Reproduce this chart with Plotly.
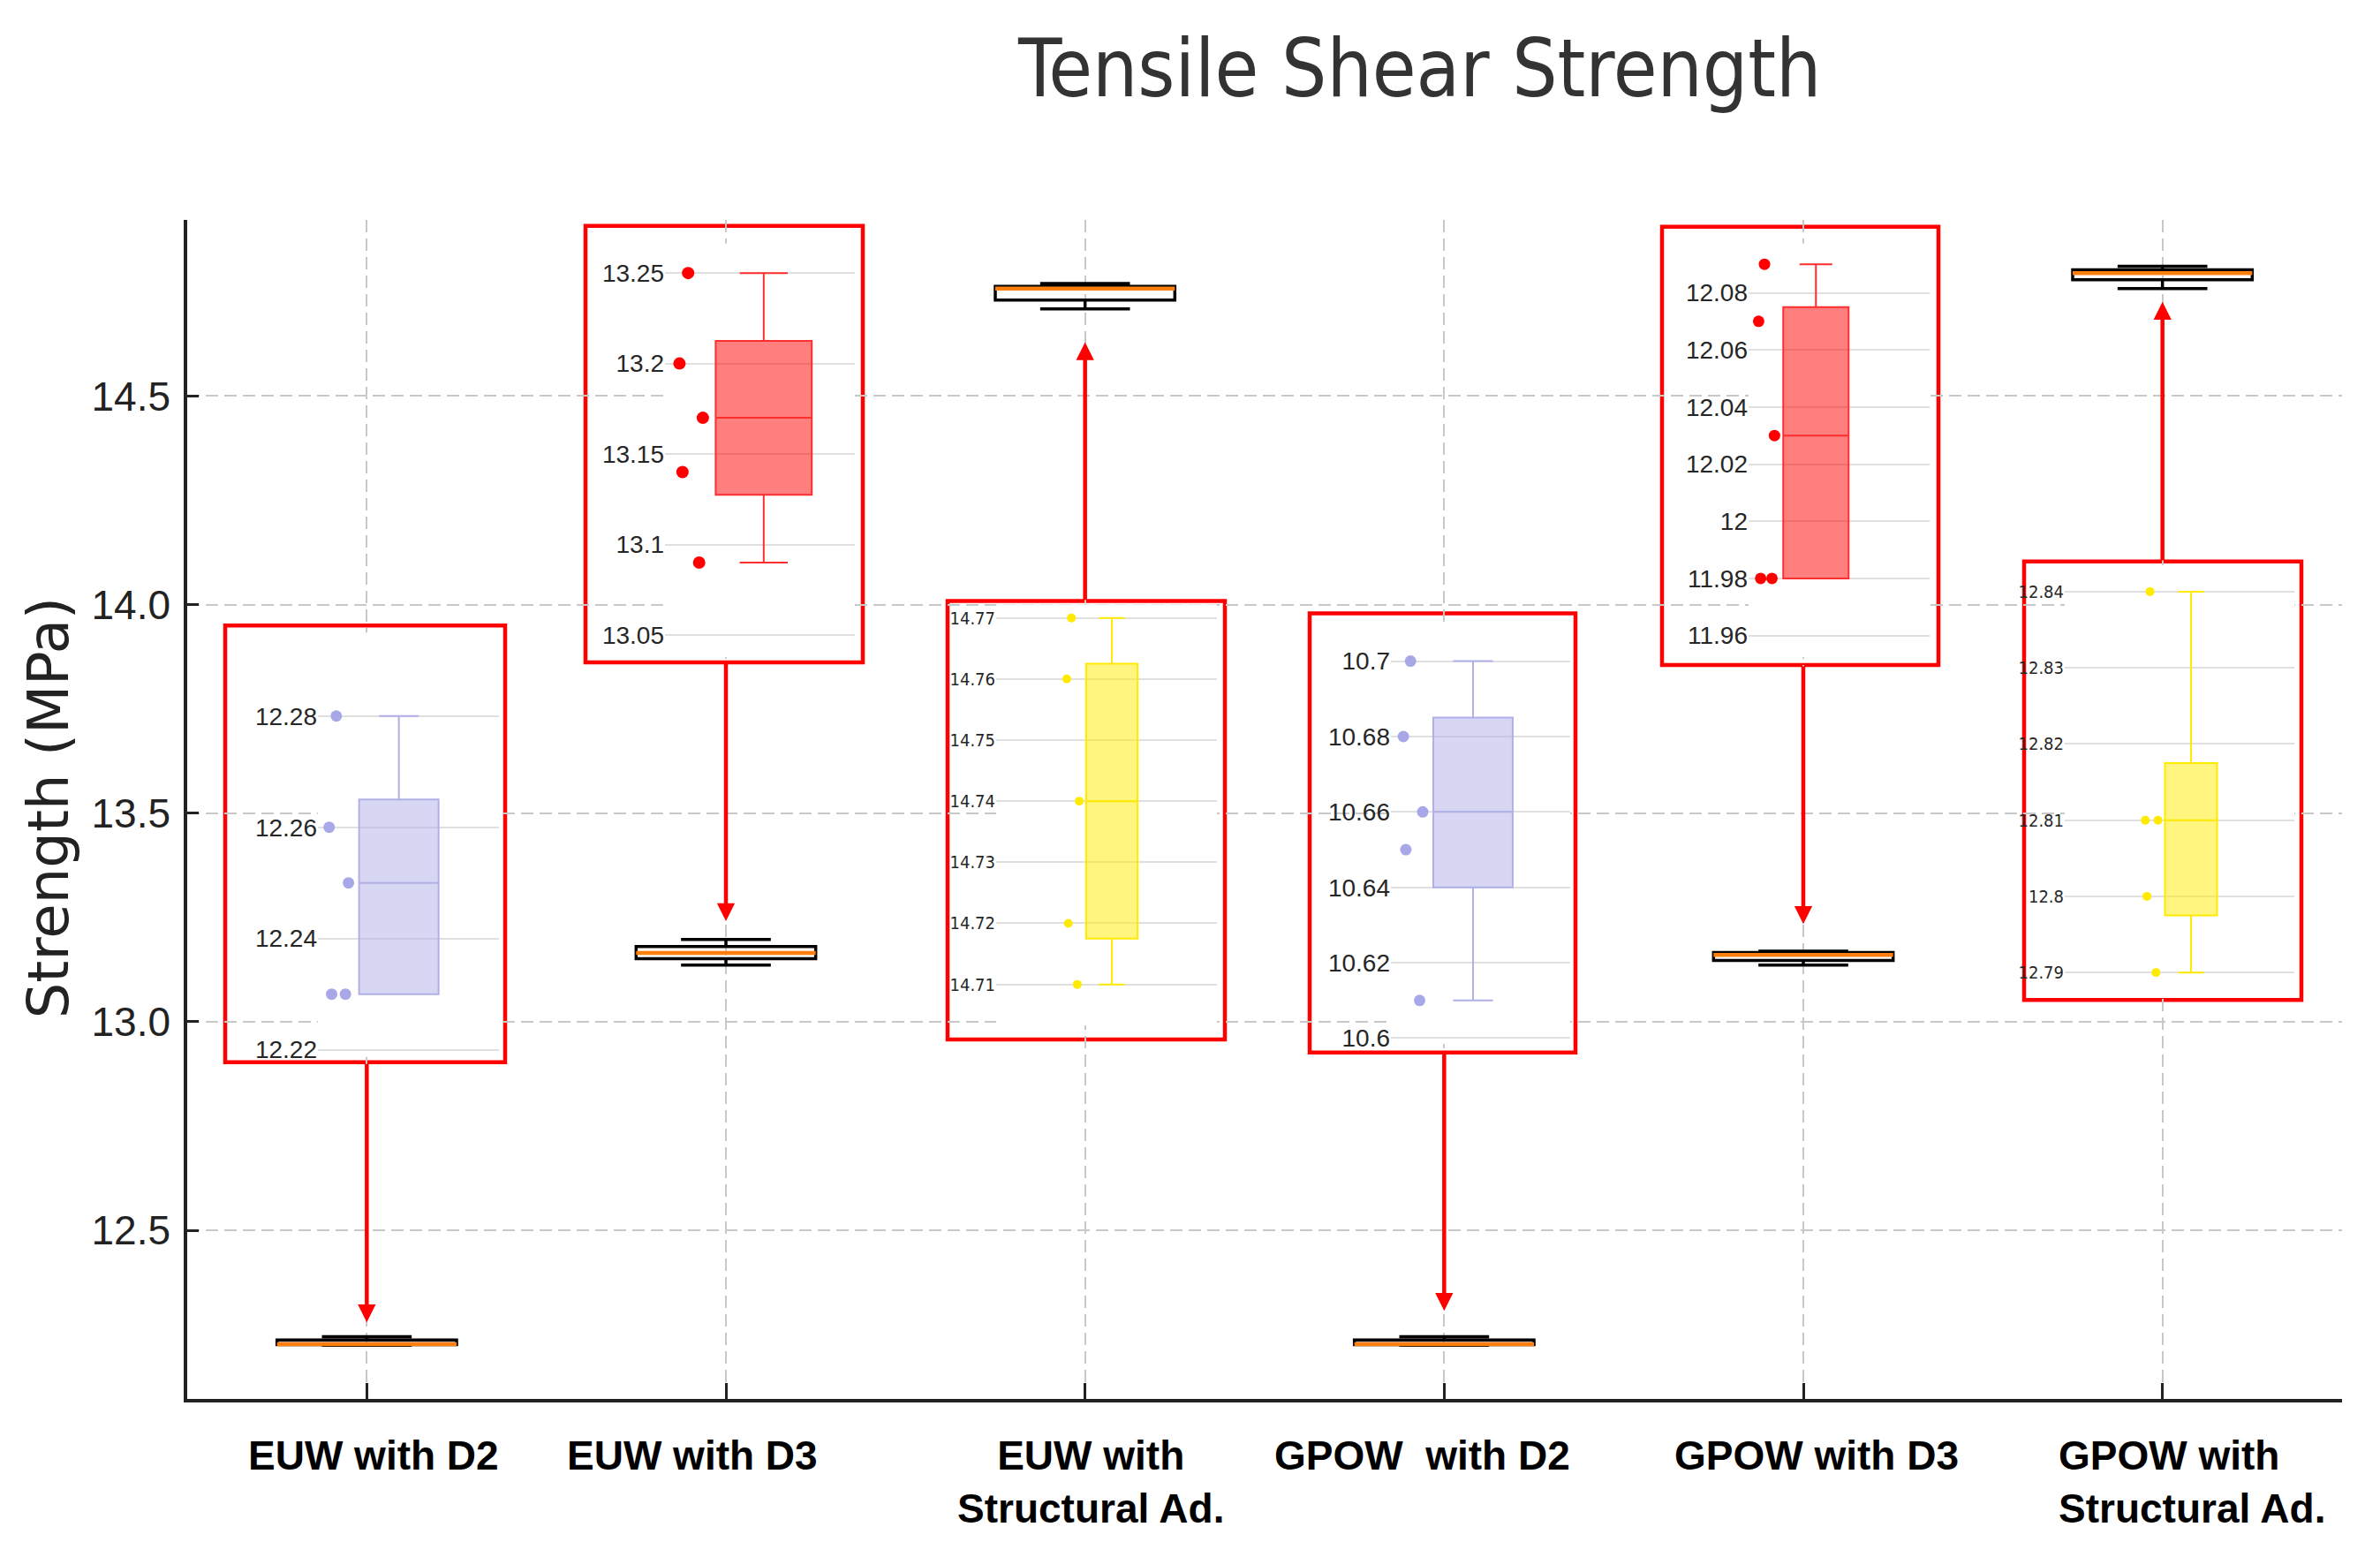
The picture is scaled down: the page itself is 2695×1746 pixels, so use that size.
import numpy as np
import plotly.graph_objects as go

W, H = 2695, 1746

# ---------------- data ----------------
categories = ["EUW with D2", "EUW with D3", "EUW with<br>Structural Ad.",
              "GPOW  with D2", "GPOW with D3", "GPOW with<br>Structural Ad."]

# values shown in the main (compressed) chart
main_euw_d2 = [12.224, 12.226, 12.227, 12.237, 12.245]
main_euw_d3 = [13.136, 13.151, 13.165, 13.180, 13.197]
main_euw_sa = [14.709, 14.730, 14.758, 14.763, 14.770]
main_gpow_d2 = [12.224, 12.226, 12.227, 12.237, 12.245]
main_gpow_d3 = [13.136, 13.147, 13.160, 13.166, 13.169]
main_gpow_sa = [14.758, 14.779, 14.795, 14.803, 14.811]
main_values = [main_euw_d2, main_euw_d3, main_euw_sa, main_gpow_d2, main_gpow_d3, main_gpow_sa]

# values shown in the zoomed insets
inset_euw_d2 = [12.28, 12.26, 12.25, 12.23, 12.23]
inset_euw_d3 = [13.25, 13.20, 13.17, 13.14, 13.09]
inset_euw_sa = [14.77, 14.76, 14.74, 14.72, 14.71]
inset_gpow_d2 = [10.70, 10.68, 10.66, 10.65, 10.61]
inset_gpow_d3 = [12.09, 12.07, 12.03, 11.98, 11.98]
inset_gpow_sa = [12.84, 12.81, 12.81, 12.80, 12.79]
inset_values = [inset_euw_d2, inset_euw_d3, inset_euw_sa, inset_gpow_d2, inset_gpow_d3, inset_gpow_sa]

inset_ticks = [
    [12.22, 12.24, 12.26, 12.28],
    [13.05, 13.10, 13.15, 13.20, 13.25],
    [14.71, 14.72, 14.73, 14.74, 14.75, 14.76, 14.77],
    [10.60, 10.62, 10.64, 10.66, 10.68, 10.70],
    [11.96, 11.98, 12.00, 12.02, 12.04, 12.06, 12.08],
    [12.79, 12.80, 12.81, 12.82, 12.83, 12.84],
]
inset_ticktext = [
    ["12.22", "12.24", "12.26", "12.28"],
    ["13.05", "13.1", "13.15", "13.2", "13.25"],
    ["14.71", "14.72", "14.73", "14.74", "14.75", "14.76", "14.77"],
    ["10.6", "10.62", "10.64", "10.66", "10.68", "10.7"],
    ["11.96", "11.98", "12", "12.02", "12.04", "12.06", "12.08"],
    ["12.79", "12.8", "12.81", "12.82", "12.83", "12.84"],
]

main_yticks = [12.5, 13.0, 13.5, 14.0, 14.5]
main_yticktext = ["12.5", "13.0", "13.5", "14.0", "14.5"]

# ---------------- styling / layout (pixels) ----------------
PX0, PX1, PY0, PY1 = 212, 2652, 250, 1592
Y_RANGE = [12.096, 14.923]

LAV = ("rgb(168,168,232)", "rgba(176,176,232,0.5)", "rgb(176,176,232)")
RED = ("rgb(255,0,0)", "rgba(255,0,0,0.5)", "rgb(255,45,45)")
YEL = ("rgb(255,234,0)", "rgba(255,236,0,0.5)", "rgb(255,234,0)")

NARROW = "Liberation Sans Narrow, DejaVu Sans Condensed, Liberation Sans, sans-serif"
REG = "Liberation Sans, Arial, sans-serif"

insets = [
    dict(rect=(255, 712, 572, 1209), gray=(360, 720, 565, 1203), yr=(12.2187, 12.295),
         bx=-0.053, bw=0.439, ms=13, col=LAV, ff=REG, fs=28),
    dict(rect=(663, 257, 977, 754), gray=(753, 277, 968, 748), yr=(13.0377, 13.2664),
         bx=0.02, bw=0.506, ms=14, col=RED, ff=REG, fs=28),
    dict(rect=(1073, 684, 1387, 1183), gray=(1128, 688, 1378, 1167), yr=(14.7033, 14.7722),
         bx=0.024, bw=0.233, ms=10, col=YEL, ff=NARROW, fs=20),
    dict(rect=(1483, 698, 1784, 1198), gray=(1575, 713, 1778, 1188), yr=(10.5985, 10.7092),
         bx=-0.042, bw=0.443, ms=13, col=LAV, ff=REG, fs=28),
    dict(rect=(1882, 258, 2195, 757), gray=(1980, 277, 2185, 748), yr=(11.9524, 12.0973),
         bx=-0.128, bw=0.361, ms=13, col=RED, ff=REG, fs=28),
    dict(rect=(2292, 639, 2606, 1138), gray=(2338, 643, 2598, 1132), yr=(12.7871, 12.8435),
         bx=0.05, bw=0.227, ms=10, col=YEL, ff=NARROW, fs=20),
]

# arrows: (category index, tail value, head value) in main-axis units
arrows = [(1, 12.902, 12.279), (2, 13.861, 13.241), (3, 14.008, 14.629),
          (4, 12.925, 12.307), (5, 13.855, 13.234), (6, 14.103, 14.726)]

label_shift = [8, -38, 6, -25, 15, 33]
label_align = ["center", "center", "center", "center", "center", "left"]


def fx(px):
    return px / W


def fy(py):
    return 1 - py / H


fig = go.Figure()

# ---------------- main box plots ----------------
for i, vals in enumerate(main_values):
    xpos = i + 1
    fig.add_trace(go.Box(
        y=vals, x0=xpos, width=0.5, whiskerwidth=0.5, boxpoints=False,
        quartilemethod="inclusive",
        line=dict(color="black", width=3.5), fillcolor="rgba(255,255,255,0)",
        showlegend=False, hoverinfo="skip", xaxis="x", yaxis="y"))
    med = float(np.median(vals))
    fig.add_trace(go.Scatter(
        x=[xpos - 0.25, xpos + 0.25], y=[med, med], mode="lines",
        line=dict(color="#ff7f0e", width=4.5), showlegend=False,
        hoverinfo="skip", xaxis="x", yaxis="y"))

layout = dict(
    width=W, height=H, margin=dict(l=0, r=0, t=0, b=0),
    paper_bgcolor="white", plot_bgcolor="white",
    font=dict(family=REG, color="#222"),
    showlegend=False, boxmode="overlay",
    xaxis=dict(domain=[fx(PX0), fx(PX1)], range=[0.5, 6.5], type="linear",
               tickvals=[1, 2, 3, 4, 5, 6], showticklabels=False,
               ticks="inside", ticklen=18, tickwidth=2.5, tickcolor="#222",
               showgrid=True, gridcolor="#c8c8c8", gridwidth=1.5, griddash="14px,7px",
               showline=True, linecolor="#222", linewidth=3.5, zeroline=False,
               anchor="y"),
    yaxis=dict(domain=[fy(PY1), fy(PY0)], range=Y_RANGE,
               tickvals=main_yticks, ticktext=main_yticktext,
               tickfont=dict(size=46, color="#222", family=REG),
               ticks="inside", ticklen=13, tickwidth=2.5, tickcolor="#222",
               ticklabelstandoff=6,
               showgrid=True, gridcolor="#c8c8c8", gridwidth=1.5, griddash="14px,7px",
               showline=True, linecolor="#222", linewidth=3.5, zeroline=False,
               anchor="x"),
)

shapes = []
annotations = []

# ---------------- insets ----------------
for k, (ins, vals) in enumerate(zip(insets, inset_values)):
    n = k + 2
    gx0, gy0, gx1, gy1 = ins["gray"]
    rx0, ry0, rx1, ry1 = ins["rect"]
    mcol, fcol, lcol = ins["col"]
    layout[f"xaxis{n}"] = dict(domain=[fx(gx0), fx(gx1)], range=[-0.5, 0.5], type="linear",
                               visible=False, anchor=f"y{n}", fixedrange=True)
    layout[f"yaxis{n}"] = dict(domain=[fy(gy1), fy(gy0)], range=list(ins["yr"]),
                               anchor=f"x{n}", tickvals=inset_ticks[k], ticktext=inset_ticktext[k],
                               tickfont=dict(size=ins["fs"], family=ins["ff"], color="#262626"),
                               showgrid=True, gridcolor="#e0e0e0", gridwidth=2,
                               zeroline=False, showline=False, ticks="", fixedrange=True)
    fig.add_trace(go.Box(
        y=vals, x0=ins["bx"], width=ins["bw"], boxpoints="all", jitter=0.3, pointpos=-1.5,
        marker=dict(color=mcol, size=ins["ms"]), line=dict(color=lcol, width=2),
        fillcolor=fcol, whiskerwidth=0.5, showlegend=False, hoverinfo="skip",
        xaxis=f"x{n}", yaxis=f"y{n}"))
    dw, dh = gx1 - gx0, gy1 - gy0
    shapes.append(dict(type="rect", xref=f"x{n} domain", yref=f"y{n} domain", layer="below",
                       x0=(rx0 - gx0) / dw, x1=(rx1 - gx0) / dw,
                       y0=(gy1 - ry1) / dh, y1=(gy1 - ry0) / dh,
                       fillcolor="white", line=dict(color="#ff0000", width=4.5)))
    shapes.append(dict(type="rect", xref=f"x{n} domain", yref=f"y{n} domain", layer="below",
                       x0=0, x1=1, y0=0, y1=1, fillcolor="#f4f4f4", line=dict(width=0)))

# ---------------- arrows ----------------
for cat, tail, head in arrows:
    annotations.append(dict(x=cat, y=head, xref="x", yref="y", ax=cat, ay=tail,
                            axref="x", ayref="y", text="", showarrow=True,
                            arrowhead=2, arrowsize=0.9, arrowwidth=4.5,
                            arrowcolor="#ff0000", standoff=0, startstandoff=0))

# ---------------- category labels ----------------
for i, cat in enumerate(categories):
    annotations.append(dict(x=i + 1, y=fy(1628), xref="x", yref="paper",
                            text=f"<b>{cat}</b>", showarrow=False, xanchor="center",
                            yanchor="top", xshift=label_shift[i], align=label_align[i],
                            font=dict(size=46, color="black", family=REG)))

# ---------------- titles ----------------
annotations.append(dict(x=fx(1607), y=fy(78), xref="paper", yref="paper",
                        text="Tensile Shear Strength", showarrow=False,
                        xanchor="center", yanchor="middle",
                        font=dict(size=90, color="#333", family=NARROW)))
annotations.append(dict(x=fx(55), y=fy(920), xref="paper", yref="paper",
                        text="Strength (MPa)", showarrow=False, textangle=-90,
                        xanchor="center", yanchor="middle",
                        font=dict(size=64, color="#222", family="DejaVu Sans, sans-serif")))

layout["shapes"] = shapes
layout["annotations"] = annotations
fig.update_layout(**layout)

fig.write_html("out.html", config={"displayModeBar": False},
               post_script="document.body.style.margin='0';document.body.style.overflow='hidden';")
